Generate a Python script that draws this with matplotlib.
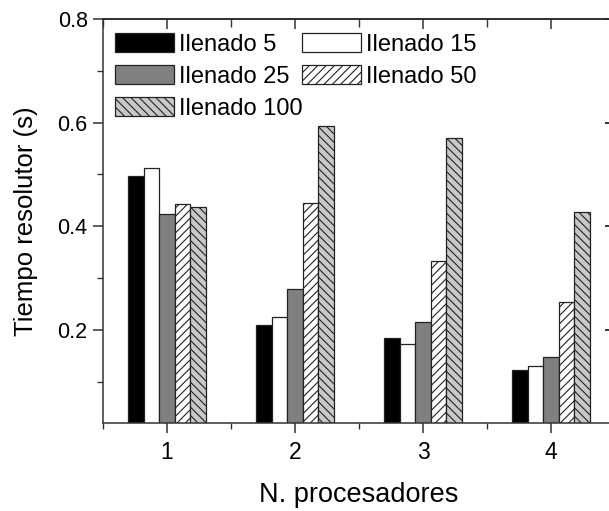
#!/usr/bin/env python3
"""Tiempo resolutor vs N. procesadores"""

import matplotlib
matplotlib.use("Agg")
import matplotlib.pyplot as plt
import numpy as np
from matplotlib.ticker import MultipleLocator

procesadores = [1, 2, 3, 4]
series = ["Ilenado 5", "Ilenado 15", "Ilenado 25", "Ilenado 50", "Ilenado 100"]
llenado_5 = [0.497, 0.210, 0.185, 0.123]
llenado_15 = [0.512, 0.224, 0.172, 0.131]
llenado_25 = [0.423, 0.279, 0.215, 0.148]
llenado_50 = [0.443, 0.445, 0.333, 0.254]
llenado_100 = [0.437, 0.594, 0.571, 0.427]

plt.rcParams['font.family'] = ['Liberation Sans', 'DejaVu Sans']
plt.rcParams['hatch.linewidth'] = 0.8


def plot(ax):
    x = np.array(procesadores, dtype=float)
    w = 0.121
    values = [llenado_5, llenado_15, llenado_25, llenado_50, llenado_100]
    faces = ['black', 'white', '#808080', 'white', '#c8c8c8']
    hatches = [None, None, None, '////', '\\\\\\\\']
    bars = []
    for i, (vals, fc, h, lab) in enumerate(zip(values, faces, hatches, series)):
        b = ax.bar(x + (i - 2) * w, vals, width=w, color=fc, edgecolor='#222222',
                   linewidth=0.9, hatch=h, label=lab)
        bars.append(b)

    ax.set_xlim(0.5, 4.5)
    ax.set_ylim(0.02, 0.8)
    ax.set_xticks(procesadores)
    ax.xaxis.set_minor_locator(MultipleLocator(0.5))
    ax.set_yticks([0.2, 0.4, 0.6, 0.8])
    ax.set_yticklabels(['0.2', '0.4', '0.6', '0.8'])
    ax.yaxis.set_minor_locator(MultipleLocator(0.1))
    ax.tick_params(which='major', direction='out', length=7, width=1.1, color='#333333')
    ax.tick_params(which='minor', direction='out', length=4, width=1.0, color='#333333')
    ax.tick_params(axis='x', labelsize=16.5, pad=6)
    ax.tick_params(axis='y', labelsize=15.5, pad=4)
    for s in ax.spines.values():
        s.set_linewidth(1.1)
        s.set_color('#333333')

    top = ax.secondary_xaxis('top')
    top.set_xticks(procesadores)
    top.xaxis.set_minor_locator(MultipleLocator(0.5))
    top.tick_params(which='major', direction='in', length=7, width=1.1, labeltop=False, color='#333333')
    top.tick_params(which='minor', direction='in', length=6, width=1.0, labeltop=False, color='#333333')
    top.spines['top'].set_linewidth(1.1)
    right = ax.secondary_yaxis('right')
    right.set_yticks([0.2, 0.4, 0.6, 0.8])
    right.yaxis.set_minor_locator(MultipleLocator(0.1))
    right.tick_params(which='major', direction='in', length=7, width=1.1, labelright=False)
    right.tick_params(which='minor', direction='in', length=4, width=1.0, labelright=False)

    ax.set_xlabel('N. procesadores', fontsize=19.5, labelpad=13)
    ax.set_ylabel('Tiempo resolutor (s)', fontsize=18.5, labelpad=14)

    # row-wise legend: 5 15 / 25 50 / 100
    order = [0, 2, 4, 1, 3]
    ax.legend([bars[i] for i in order], [series[i] for i in order],
              loc='upper left', ncol=2, frameon=False, fontsize=17,
              handlelength=2.5, handleheight=0.89, handletextpad=0.2,
              columnspacing=0.0, labelspacing=0.38, borderaxespad=0.0,
              borderpad=0.0, bbox_to_anchor=(12 / 512, 1 - 14 / 404))


def main():
    fig = plt.figure(figsize=(6.09, 5.11), dpi=100)
    ax = fig.add_axes([103 / 609, 88 / 511, 512 / 609, 404 / 511])
    plot(ax)
    fig.savefig('out.png', dpi=100)


if __name__ == "__main__":
    main()
